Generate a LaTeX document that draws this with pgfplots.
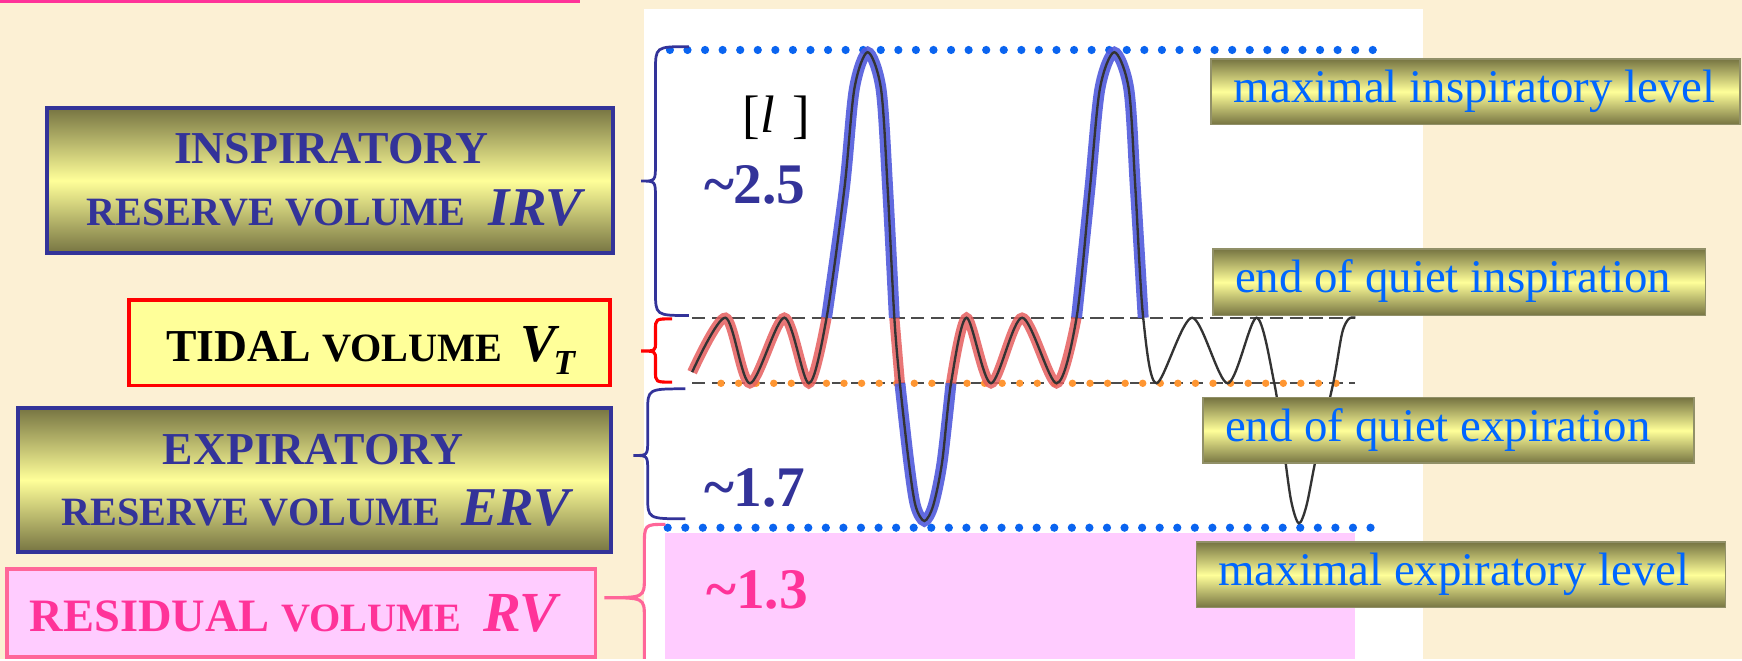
\documentclass[border=0pt]{standalone}
\usepackage{fontspec}
\setmainfont{Liberation Serif}
\usepackage{pgfplots}
\pgfplotsset{compat=1.18}

\definecolor{bg}{RGB}{252,240,212}
\definecolor{navyb}{RGB}{51,51,153}
\definecolor{olived}{RGB}{118,116,66}
\definecolor{lyellow}{RGB}{255,255,153}
\definecolor{lblue}{RGB}{0,102,255}
\definecolor{dotblue}{RGB}{10,100,240}
\definecolor{dotorange}{RGB}{255,150,50}
\definecolor{rvpink}{RGB}{255,204,255}
\definecolor{rvtext}{RGB}{255,51,153}
\definecolor{rvborder}{RGB}{255,102,153}
\definecolor{traceblue}{RGB}{80,90,220}
\definecolor{tracered}{RGB}{230,95,95}

\begin{document}
\begin{tikzpicture}
\begin{axis}[
    at={(0,0)}, anchor=south west,
    width=15.68cm, height=5.93cm, scale only axis,
    xmin=0, xmax=1568, ymin=0, ymax=593,
    y dir=reverse,
    hide axis,
    clip=false,
]
% background and panels
\fill[bg] (0,0) rectangle (1568,593);
\fill[rvtext] (0,0) rectangle (522,3);
\fill[white] (580,8) rectangle (1281,593);
\fill[rvpink] (599,480) rectangle (1220,593);

% level lines
\addplot[black!70, line width=0.6pt, dash pattern=on 3.4pt off 1.7pt] coordinates {(623,286) (1220,286)};
\addplot[black!70, line width=0.6pt, dash pattern=on 3.4pt off 1.7pt] coordinates {(623,345) (1220,345)};
\addplot[dotorange, line width=1.9pt, line cap=round, dash pattern=on 0pt off 4.5pt] coordinates {(649,345) (1205,345)};
\addplot[dotblue, line width=2.1pt, line cap=round, dash pattern=on 0pt off 4.5pt] coordinates {(603,45) (1243,45)};
\addplot[dotblue, line width=2.1pt, line cap=round, dash pattern=on 0pt off 4.5pt] coordinates {(601,475) (1236,475)};

% thick coloured overlays of the spirogram
\addplot[tracered, opacity=0.85, line width=2.6pt, smooth, tension=0.5] coordinates {
  (623,335) (653,286) (675,345) (706,286) (728,345) (744,286)};
\addplot[tracered, opacity=0.85, line width=2.6pt] coordinates {(805,286) (810,345)};
\addplot[tracered, opacity=0.85, line width=2.6pt, smooth, tension=0.5] coordinates {
  (856,345) (870,286) (892,345) (920,286) (951,345) (969,286)};
\addplot[traceblue, opacity=0.9, line width=2.8pt, smooth, tension=0.5] coordinates {
  (744,286) (760,170) (769,80) (781,47) (793,80) (799,170) (805,286)};
\addplot[traceblue, opacity=0.9, line width=2.8pt, smooth, tension=0.5] coordinates {
  (810,345) (818,416) (824,455) (832,469) (840,455) (848,416) (856,345)};
\addplot[traceblue, opacity=0.9, line width=2.8pt, smooth, tension=0.5] coordinates {
  (969,286) (981,170) (990,80) (1003,47) (1016,80) (1022,170) (1029,286)};

% thin trace
\addplot[black!80, line width=0.6pt, smooth, tension=0.5] coordinates {
  (623,335) (653,286) (675,345) (706,286) (728,345) (744,286)
  (760,170) (769,80) (781,47) (793,80) (799,170) (805,286) (810,345)
  (818,416) (824,455) (832,469) (840,455) (848,416) (856,345)
  (870,286) (892,345) (920,286) (951,345) (969,286)
  (981,170) (990,80) (1003,47) (1016,80) (1022,170) (1029,286)
  (1041,345) (1073,286) (1105,345) (1131,286)
  (1147,345) (1155,400) (1162,450) (1169,471) (1176,455) (1185,410)
  (1200,345) (1208,300) (1214,287) (1220,286)};

% braces
\draw[navyb, line width=0.7pt] (620,42) .. controls (590,42) .. (590,64) -- (590,148)
  .. controls (590,163) .. (577,163) .. controls (590,163) .. (590,178) -- (590,262)
  .. controls (590,284) .. (620,284);
\draw[red, line width=0.8pt] (605,287) .. controls (590,287) .. (590,297) -- (590,308)
  .. controls (590,316) .. (577,316) .. controls (590,316) .. (590,324) -- (590,334)
  .. controls (590,344) .. (605,344);
\draw[navyb, line width=0.7pt] (617,350) .. controls (583,350) .. (583,370) -- (583,396)
  .. controls (583,410) .. (570,410) .. controls (583,410) .. (583,424) -- (583,447)
  .. controls (583,467) .. (617,467);
\draw[rvborder, line width=0.8pt] (599,472) .. controls (580,472) .. (580,492) -- (580,520)
  .. controls (580,538) .. (544,538) .. controls (580,538) .. (580,556) -- (580,593);

% value labels
\node[anchor=base west, inner sep=0, font=\fontsize{13.5}{14}\selectfont] at (668,119) {[\textit{l}\,\,]};
\node[anchor=base west, inner sep=0, text=navyb, font=\fontsize{14.7}{15}\selectfont\bfseries] at (633,183) {\textasciitilde 2.5};
\node[anchor=base west, inner sep=0, text=navyb, font=\fontsize{14.7}{15}\selectfont\bfseries] at (633,456) {\textasciitilde 1.7};
\node[anchor=base west, inner sep=0, text=rvtext, font=\fontsize{14.7}{15}\selectfont\bfseries] at (635,548) {\textasciitilde 1.3};

% left boxes
\draw[navyb, line width=1pt, top color=olived, bottom color=olived, middle color=lyellow] (42,97) rectangle (552,228);
\node[anchor=base, inner sep=0, text=navyb, font=\fontsize{11.7}{12}\selectfont\bfseries] at (298,147) {INSPIRATORY};
\node[anchor=base, inner sep=0, text=navyb, font=\bfseries] at (301,203) {\fontsize{10.3}{11}\selectfont RESERVE VOLUME\hspace{6pt}\fontsize{14}{14}\selectfont\itshape IRV};

\draw[red, line width=1pt, fill=lyellow] (116,270) rectangle (549,347);
\node[anchor=base west, inner sep=0, text=black, font=\bfseries] at (149,325) {\fontsize{11.7}{12}\selectfont TIDAL \fontsize{10.3}{11}\selectfont VOLUME\hspace{4.5pt}\fontsize{13.7}{14}\selectfont\itshape V\kern-0.6pt\raisebox{-3.4pt}{\fontsize{9}{9}\selectfont T}};

\draw[navyb, line width=1pt, top color=olived, bottom color=olived, middle color=lyellow] (16,367) rectangle (550,497);
\node[anchor=base, inner sep=0, text=navyb, font=\fontsize{11.7}{12}\selectfont\bfseries] at (282,418) {EXPIRATORY};
\node[anchor=base, inner sep=0, text=navyb, font=\bfseries] at (284,473) {\fontsize{10.3}{11}\selectfont RESERVE VOLUME\hspace{5.5pt}\fontsize{14}{14}\selectfont\itshape ERV};

\draw[rvborder, line width=1pt, fill=rvpink] (6,512) rectangle (536,591);
\node[anchor=base west, inner sep=0, text=rvtext, font=\bfseries] at (26,568) {\fontsize{11.9}{12}\selectfont RESIDUAL \fontsize{10.3}{11}\selectfont VOLUME\hspace{5.5pt}\fontsize{14.5}{15}\selectfont\itshape RV};

% right level labels
\draw[olived!80, line width=0.4pt, top color=olived, bottom color=olived, middle color=lyellow] (1090,53) rectangle (1566,112);
\node[anchor=base west, inner sep=0, text=lblue, font=\fontsize{12}{13}\selectfont] at (1110,92) {maximal inspiratory level};
\draw[olived!80, line width=0.4pt, top color=olived, bottom color=olived, middle color=lyellow] (1092,224) rectangle (1535,284);
\node[anchor=base west, inner sep=0, text=lblue, font=\fontsize{12}{13}\selectfont] at (1111,263) {end of quiet inspiration};
\draw[olived!80, line width=0.4pt, top color=olived, bottom color=olived, middle color=lyellow] (1083,358) rectangle (1525,417);
\node[anchor=base west, inner sep=0, text=lblue, font=\fontsize{12}{13}\selectfont] at (1102,397) {end of quiet expiration};
\draw[olived!80, line width=0.4pt, top color=olived, bottom color=olived, middle color=lyellow] (1077,488) rectangle (1553,547);
\node[anchor=base west, inner sep=0, text=lblue, font=\fontsize{12}{13}\selectfont] at (1096,527) {maximal expiratory level};
\end{axis}
\end{tikzpicture}
\end{document}
